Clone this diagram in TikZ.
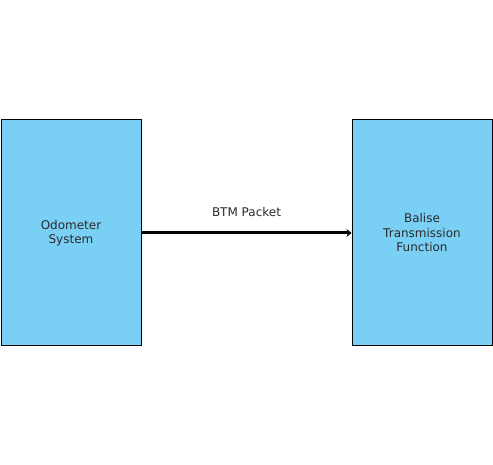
\documentclass[tikz,border=0pt]{standalone}
\usepackage{fontspec}
\setmainfont{DejaVu Sans}
\usepackage[]{tikz}
\usetikzlibrary{arrows.meta}
\usepackage[]{xcolor}
\definecolor{skyblue}{HTML}{7ACFF5}
\definecolor{darktext}{HTML}{2B2B2B}
\tikzstyle{block} = [rectangle, draw, line width=1pt, minimum width=140pt, text centered, minimum height=226pt, fill=skyblue, align=center, text=darktext, font=\fontsize{12}{14.5}\selectfont]
\tikzset{
	packet/.style={-{Stealth[length=5pt,width=8pt]}, line width=3pt},
	msg/.style={above=11pt, text=darktext, font=\fontsize{12}{14.5}\selectfont}
	}

\begin{document}
\begin{tikzpicture}[x=1pt, y=1pt, node distance = 351pt]
	\useasboundingbox (0,0) rectangle (493,465);
	\node [block] (odometer) at (71,232) {Odometer\\ System};
	\node [block, right of = odometer] (balise) {Balise\\Transmission\\Function};
	
	\draw[packet] (odometer) -- (balise) node[midway, msg] {BTM Packet};
\end{tikzpicture}
\end{document}
